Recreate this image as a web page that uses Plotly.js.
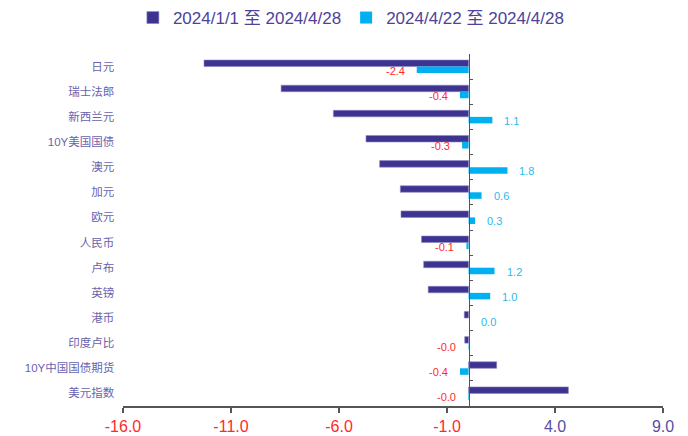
<!DOCTYPE html>
<html>
<head>
<meta charset="utf-8">
<script src="https://cdn.plot.ly/plotly-3.0.1.min.js"></script>
<style>html,body{margin:0;padding:0;background:#fff}</style>
</head>
<body>
<div id="chart" style="width:688px;height:436px"></div>
<script>
// Currency / asset list, top to bottom
const categories = ['日元', '瑞士法郎', '新西兰元', '10Y美国国债', '澳元', '加元', '欧元',
  '人民币', '卢布', '英镑', '港币', '印度卢比', '10Y中国国债期货', '美元指数'];
// Change since 2024/1/1 (%)
const ytdChange = [-12.25, -8.68, -6.26, -4.75, -4.12, -3.16, -3.13,
  -2.18, -2.08, -1.87, -0.2, -0.18, 1.3, 4.62];
// Change over the last week (%)
const weekChange = [-2.4, -0.4, 1.1, -0.3, 1.8, 0.6, 0.3,
  -0.1, 1.2, 1.0, 0.0, -0.02, -0.4, -0.03];
const seriesNames = ['2024/1/1 至 2024/4/28', '2024/4/22 至 2024/4/28'];
const xTicks = [-16, -11, -6, -1, 4, 9];

const DARK = '#3d3492';
const LIGHT = '#00b0f0';
const NEG_RED = '#ff2a2a';
const POS_PURPLE = '#5a4fa3';
const FONT = 'Liberation Sans, Arial, "Noto Sans CJK SC", sans-serif';

const traces = [
  {
    type: 'bar', orientation: 'h', name: seriesNames[0],
    y: categories, x: ytdChange,
    marker: {color: DARK, line: {color: '#8d86c4', width: 0.6}},
    hoverinfo: 'x+y'
  },
  {
    type: 'bar', orientation: 'h', name: seriesNames[1],
    y: categories, x: weekChange,
    marker: {color: LIGHT},
    hoverinfo: 'x+y'
  }
];

// Value labels beside the weekly bars: red to the left for negatives, blue to the right otherwise
const valueLabels = categories.map((c, i) => {
  const v = weekChange[i];
  const neg = v < 0 || Object.is(v, -0);
  return {
    x: v, y: c, xref: 'x', yref: 'y',
    text: v.toFixed(1),
    showarrow: false,
    xanchor: neg ? 'right' : 'left',
    xshift: neg ? -10 : 10,
    yshift: -4,
    font: {family: FONT, size: 11, color: neg ? NEG_RED : '#2fb8ec'}
  };
});

const layout = {
  width: 688, height: 436,
  margin: {l: 123, r: 25, t: 54, b: 30},
  paper_bgcolor: '#ffffff', plot_bgcolor: '#ffffff',
  font: {family: FONT, color: '#5a4fa3'},
  barmode: 'group',
  bargap: 0.48,
  bargroupgap: 0,
  showlegend: true,
  legend: {
    orientation: 'h',
    xref: 'container', yref: 'container',
    x: 0.51, xanchor: 'center', y: 1, yanchor: 'top',
    font: {family: FONT, size: 17, color: '#4c4399'},
    itemclick: false, itemdoubleclick: false,
    traceorder: 'normal'
  },
  xaxis: {
    range: [-16, 9],
    tickvals: xTicks,
    ticktext: xTicks.map(v => `<span style="color:${v < 0 ? NEG_RED : POS_PURPLE}">${v.toFixed(1)}</span>`),
    tickfont: {family: FONT, size: 16},
    ticks: 'outside', ticklen: 5, tickwidth: 1.5, tickcolor: '#555555',
    showline: true, linecolor: '#555555', linewidth: 1.5,
    showgrid: false, zeroline: false,
    fixedrange: true
  },
  yaxis: {
    type: 'category',
    categoryorder: 'array', categoryarray: categories,
    autorange: 'reversed',
    anchor: 'free', position: 0.64, side: 'left',
    showline: true, linecolor: '#555555', linewidth: 1,
    ticks: 'inside', ticklen: 3, tickwidth: 1, tickcolor: '#555555',
    tickson: 'boundaries',
    ticklabelstandoff: 352,
    tickfont: {family: FONT, size: 11.5, color: '#6a62ad'},
    showgrid: false, zeroline: false,
    automargin: false,
    fixedrange: true
  },
  annotations: valueLabels
};

Plotly.newPlot('chart', traces, layout, {displayModeBar: false, staticPlot: true});
</script>
</body>
</html>
